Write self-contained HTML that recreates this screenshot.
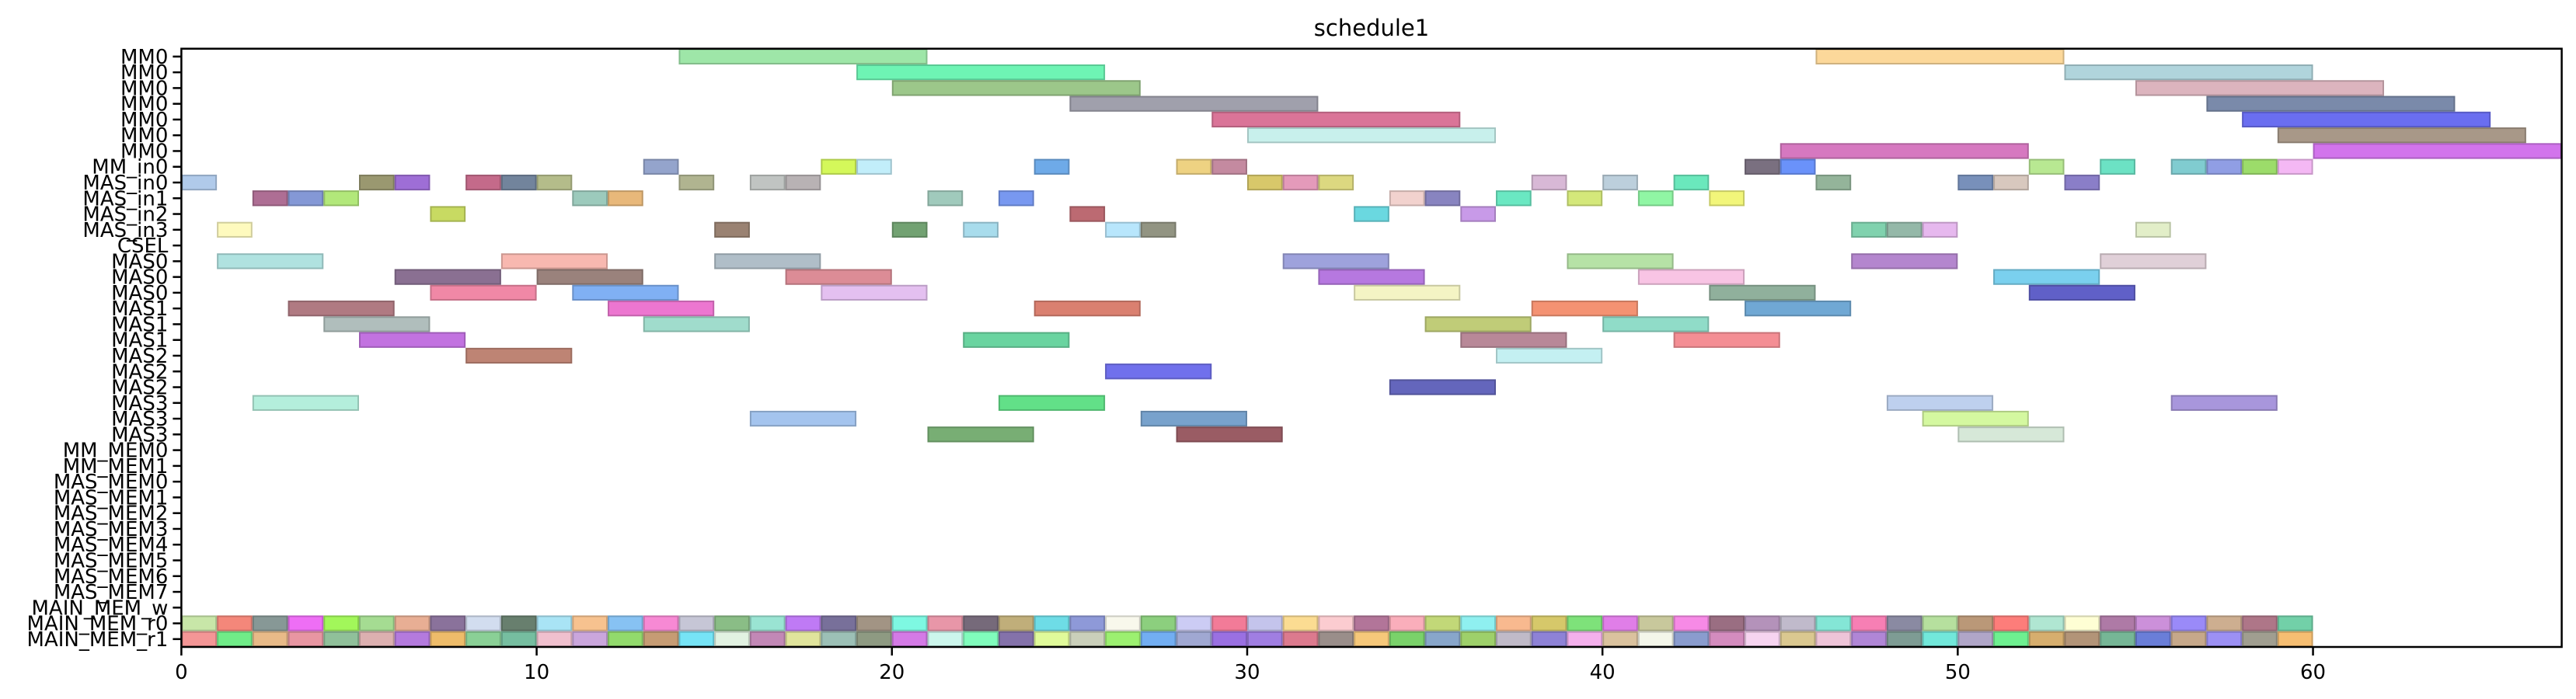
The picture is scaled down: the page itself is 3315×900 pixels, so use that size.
<!DOCTYPE html>
<html><head><meta charset="utf-8"><title>schedule1</title>
<style>
html,body{margin:0;padding:0;background:#fff;}
svg{display:block;font-family:"DejaVu Sans","Liberation Sans",sans-serif;}
</style></head>
<body>
<svg id="chart" width="3315" height="900" viewBox="0 0 3315 900" xmlns="http://www.w3.org/2000/svg">
<rect x="0" y="0" width="3315" height="900" fill="#fff"/>
<text x="1765" y="46" font-size="29" text-anchor="middle" fill="#000">schedule1</text>
<g id="bars"></g>
<g id="axes"></g>
</svg>
<script>
const rowLabels = ["MM0","MM0","MM0","MM0","MM0","MM0","MM0","MM_in0","MAS_in0","MAS_in1","MAS_in2","MAS_in3","CSEL","MAS0","MAS0","MAS0","MAS1","MAS1","MAS1","MAS2","MAS2","MAS2","MAS3","MAS3","MAS3","MM_MEM0","MM_MEM1","MAS_MEM0","MAS_MEM1","MAS_MEM2","MAS_MEM3","MAS_MEM4","MAS_MEM5","MAS_MEM6","MAS_MEM7","MAIN_MEM_w","MAIN_MEM_r0","MAIN_MEM_r1"];
const xTicks = [0,10,20,30,40,50,60];
const xMax = 67;
const taskRows = [0,0,1,1,2,2,3,3,4,4,5,5,6,6,
7,7,7,7,7,7,7,7,7,7,7,7,7,7,
8,8,8,8,8,8,8,8,8,8,8,8,8,8,8,8,8,8,8,
9,9,9,9,9,9,9,9,9,9,9,9,9,
10,10,10,10,
11,11,11,11,11,11,11,11,11,11,
13,13,13,13,13,13,13,
14,14,14,14,14,14,
15,15,15,15,15,15,
16,16,16,16,16,
17,17,17,17,
18,18,18,18,
19,19,20,21,
22,22,22,22,
23,23,23,
24,24,24];
const taskStarts = [14,46,19,53,20,55,25,57,29,58,30,59,45,60,
13,18,19,24,28,29,44,45,52,54,56,57,58,59,
0,5,6,8,9,10,14,16,17,30,31,32,38,40,42,46,50,51,53,
2,3,4,11,12,21,23,34,35,37,39,41,43,
7,25,33,36,
1,15,20,22,26,27,47,48,49,55,
1,9,15,31,39,47,54,
6,10,17,32,41,51,
7,11,18,33,43,52,
3,12,24,38,44,
4,13,35,40,
5,22,36,42,
8,37,26,34,
2,23,48,56,
16,27,49,
21,28,50];
const taskDurations = [7,7,7,7,7,7,7,7,7,7,7,7,7,7,
1,1,1,1,1,1,1,1,1,1,1,1,1,1,
1,1,1,1,1,1,1,1,1,1,1,1,1,1,1,1,1,1,1,
1,1,1,1,1,1,1,1,1,1,1,1,1,
1,1,1,1,
1,1,1,1,1,1,1,1,1,1,
3,3,3,3,3,3,3,
3,3,3,3,3,3,
3,3,3,3,3,3,
3,3,3,3,3,
3,3,3,3,
3,3,3,3,
3,3,3,3,
3,3,3,3,
3,3,3,
3,3,3];
const taskColors = ["#9ee6a8","#fcd89a","#6ef4b4","#b0d4dc","#9cc78a","#dcb4be","#a0a0ac","#7a8aaa","#da7498","#6a6ef0","#c8f0ec","#a89888","#d678c0","#d274ec",
"#94a4cc","#d4f85a","#c2eefa","#6eaae8","#eed282","#c48aa0","#7a7080","#6a92fa","#b8e892","#6ce2c4","#80ccd0","#909ee4","#9cdc6a","#f4b8f4",
"#b0caea","#9a9870","#9e6ed6","#c46a8a","#72849c","#b4bc8a","#b0b490","#c0c4c2","#b8b2b4","#d8c86a","#e49aba","#dcd880","#d8b8d6","#bccfdc","#6ae8bc","#94b49a","#7890ba","#d8c8be","#8a7ec8",
"#ae6e94","#8498d6","#b2e87a","#9ccabc","#e8b87a","#a0cabc","#7898f0","#f2d2ce","#8884c0","#6ae8c2","#d4e87a","#90f6a4","#f2f67a",
"#c8da62","#bc6a72","#6ad8e0","#c89ae8",
"#fefabe","#9a8272","#72a272","#a8dcec","#b8e6fc","#929482","#80d2ae","#94b8a8","#e6b8ee","#e2eec8",
"#b0e2e0","#f8b8b0","#b0bec8","#9ea2dc","#b6e2a6","#b486ce","#e0d0d8",
"#8a7092","#9a827c","#dc8c96","#b678e0","#f8c4e4","#7ad0ee",
"#f088a6","#80b0f4","#e4c0f0","#f4f4c4","#90b09c","#6060c8",
"#b07a82","#ec76d0","#da8070","#f49272","#70a8d4",
"#b0bebc","#a0dccc","#c0cc78","#90dcc8",
"#c272e0","#6ad4a0","#b88898","#f48e94",
"#be8474","#c4f0f2","#7070ec","#6466bc",
"#b4eedc","#62e088","#bed0ee","#a896dc",
"#a4c4ee","#78a2cc","#d4f8a0",
"#78ae74","#9a5c64","#d6e8d8"];
const memR0Colors = ["#c8e6a8","#f4877a","#879896","#ee6ef5","#a2f75a","#a5dc92","#e8ae94","#8a729b","#d2ddef","#687f6e","#a9e4f5","#f7c28f","#87c2f3","#f789d4","#c6c6d6","#8abd86","#9ae4d3","#bf7af5","#78709a","#a29484",
"#7ef8e2","#e896a8","#766a7a","#c0ae7a","#6edce6","#8e99d8","#f8f8ec","#8ccf7e","#ccccf4","#f27b98","#c4c4ec","#fbdc92","#fbccd0","#b27599","#faaebb","#c2d878","#8ff0f0","#f8b98f","#d6c86a","#7ee27a",
"#e07ee8","#c8c89c","#f78ae6","#9a6e82","#b492ba","#c0bacb","#84e6d6","#f77fb4","#8a8aa2","#b6e09e","#ba9878","#fd7d7a","#b0e6d2","#fefed4","#ae7aa6","#cc90da","#9a8af8","#cdae90","#ae7688","#72d0a8"];
const memR1Colors = ["#f49696","#70ec88","#e8ba88","#e896a2","#90c09a","#dcb0b0","#b47ade","#eebc6a","#8ad096","#76bea0","#f0c0ce","#caa6dc","#92da6c","#c69c74","#76e4f6","#e2f2e2","#c288b6","#e0e49c","#9cc0b6","#8e9a82",
"#d47ae6","#ccf6ec","#80fcbc","#8472aa","#e0fa9a","#cacfba","#9cf070","#72aef2","#a0a8d2","#9a70e2","#a07ee2","#dc7a8e","#9a8e8a","#f6c87a","#7ad26a","#88a6ca","#9ed06a","#c0bac8","#8e82d6","#f4b0ec",
"#dac29e","#f4f6ea","#8a9cce","#d48cbe","#f6d4f0","#dac890","#eec4d8","#b086d6","#7e9c94","#72e8da","#b0a6c8","#6ef090","#d6ae6e","#b29478","#76b696","#6a7ed8","#c6a88a","#9c90f4","#a09e90","#f6be72"];

const NS = "http://www.w3.org/2000/svg";
const L = 233.4, R = 3296.6, T = 62.7, B = 833;
const rowH = (B - T) / rowLabels.length;
function xScale(v){ return L + (R - L) * v / xMax; }
function yScale(i){ return T + rowH * (i + 0.5); }
function darker(hex){
  const n = parseInt(hex.slice(1),16);
  const r = Math.round(((n>>16)&255)*0.82), g = Math.round(((n>>8)&255)*0.82), b = Math.round((n&255)*0.82);
  return "rgb("+r+","+g+","+b+")";
}
const barsG = document.getElementById("bars");
function addBar(row, start, dur, color, name){
  const r = document.createElementNS(NS,"rect");
  r.setAttribute("x", xScale(start)+1);
  r.setAttribute("y", yScale(row)-rowH/2+1);
  r.setAttribute("width", xScale(start+dur)-xScale(start)-2);
  r.setAttribute("height", rowH-2);
  r.setAttribute("fill", color);
  r.setAttribute("stroke", darker(color));
  r.setAttribute("stroke-width", "2");
  
  
  barsG.appendChild(r);
}
for (let i = 0; i < taskRows.length; i++) {
  addBar(taskRows[i], taskStarts[i], taskDurations[i], taskColors[i], "task-bar-" + i);
}
for (let i = 0; i < memR0Colors.length; i++) {
  addBar(36, i, 1, memR0Colors[i], "main-mem-r0-bar-" + i);
}
for (let i = 0; i < memR1Colors.length; i++) {
  addBar(37, i, 1, memR1Colors[i], "main-mem-r1-bar-" + i);
}

const axesG = document.getElementById("axes");
const frame = document.createElementNS(NS,"rect");
frame.setAttribute("x", L); frame.setAttribute("y", T);
frame.setAttribute("width", R-L); frame.setAttribute("height", B-T);
frame.setAttribute("fill","none"); frame.setAttribute("stroke","#000"); frame.setAttribute("stroke-width","2.5");


axesG.appendChild(frame);

for (let i = 0; i < rowLabels.length; i++) {
  const y = yScale(i);
  const tk = document.createElementNS(NS,"line");
  tk.setAttribute("x1", L-11); tk.setAttribute("x2", L);
  tk.setAttribute("y1", y); tk.setAttribute("y2", y);
  tk.setAttribute("stroke","#000"); tk.setAttribute("stroke-width","2.5");
  
  
  axesG.appendChild(tk);
  const t = document.createElementNS(NS,"text");
  t.setAttribute("x", L-17); t.setAttribute("y", y+9);
  t.setAttribute("text-anchor","end"); t.setAttribute("font-size","26");
  t.textContent = rowLabels[i];
  
  
  axesG.appendChild(t);
}
for (const v of xTicks) {
  const x = xScale(v);
  const tk = document.createElementNS(NS,"line");
  tk.setAttribute("x1", x); tk.setAttribute("x2", x);
  tk.setAttribute("y1", B); tk.setAttribute("y2", B+11);
  tk.setAttribute("stroke","#000"); tk.setAttribute("stroke-width","2.5");
  
  
  axesG.appendChild(tk);
  const t = document.createElementNS(NS,"text");
  t.setAttribute("x", x); t.setAttribute("y", B+41);
  t.setAttribute("text-anchor","middle"); t.setAttribute("font-size","26");
  t.textContent = String(v);
  
  
  axesG.appendChild(t);
}
</script>
</body></html>
